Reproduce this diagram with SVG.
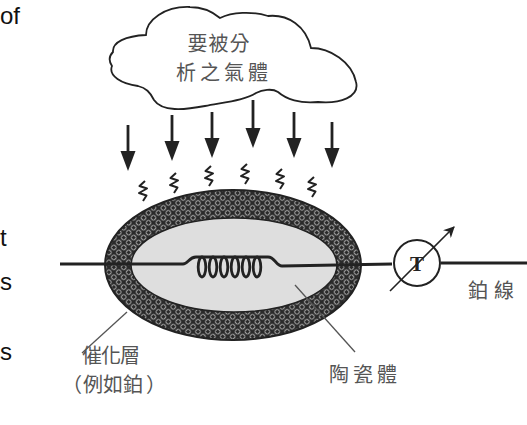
<svg xmlns="http://www.w3.org/2000/svg" width="527" height="425" viewBox="0 0 527 425">
  <style>
    .side { font-family: "Liberation Sans", Arial, sans-serif; font-size: 24px; fill: #111; }
    .cjk { font-family: "Noto Sans CJK TC", "Noto Sans CJK SC", sans-serif; fill: #555; font-size: 20px; }
    .line { stroke: #222; fill: none; }
    .leader { stroke: #555; stroke-width: 1.3; fill: none; }
    .squig { stroke: #222; stroke-width: 2; fill: none; stroke-linejoin: round; }
    .shaft { stroke: #222; stroke-width: 2.8; }
  </style>
  <defs>
    <!-- lattice texture of the catalyst coating -->
    <pattern id="net" width="7" height="7" patternUnits="userSpaceOnUse" patternTransform="rotate(45)">
      <rect width="7" height="7" fill="#2a2a2a"/>
      <rect x="1.3" y="1.3" width="4.4" height="4.4" rx="1.6" fill="none" stroke="#b0b0b0" stroke-width="1"/>
    </pattern>
    <marker id="head" viewBox="0 0 10 10" refX="9" refY="5" markerWidth="7" markerHeight="7" markerUnits="strokeWidth" orient="auto">
      <path d="M0,0 L10,5 L0,10 L3,5 Z" fill="#222"/>
    </marker>
    <path id="arrow" d="M-7.5,-20 L7.5,-20 L0,0 Z" fill="#222"/>
    <path id="zig" d="M2,-10 L-3.5,-5 L4,-2.5 L-4,2 L3.5,4.5 L0,10" />
  </defs>

  <!-- clipped text from the neighbouring column -->
  <g id="margin-text">
    <text class="side" x="0" y="24">of</text>
    <text class="side" x="0" y="246">t</text>
    <text class="side" x="0" y="290">s</text>
    <text class="side" x="0" y="360">s</text>
  </g>

  <!-- gas cloud -->
  <g id="cloud">
    <path class="line" stroke-width="1.8" fill="#fff" d="M113,52 C112,42 126,36 146,35 C146,20 165,6 190,7 C205,7 214,13 220,18 C232,12 252,11 268,16 C288,14 306,26 311,48 C330,48 352,62 356,82 C360,97 340,104 318,102 C300,104 286,99 278,92 C272,88 262,90 256,93 C246,100 226,102 205,106 C184,110 162,112 154,100 C150,92 146,88 138,86 C122,84 108,76 112,66 C108,60 110,55 113,52 Z"/>
    <text class="cjk" x="219" y="51" text-anchor="middle" letter-spacing="1">要被分</text>
    <text class="cjk" x="224" y="80" text-anchor="middle" letter-spacing="4">析之氣體</text>
  </g>

  <!-- gas flow arrows -->
  <g id="flow">
    <line class="shaft" x1="128" y1="125" x2="128" y2="155"/>
    <use href="#arrow" x="128" y="171"/>
    <line class="shaft" x1="172" y1="115" x2="172" y2="145"/>
    <use href="#arrow" x="172" y="161"/>
    <line class="shaft" x1="212" y1="112" x2="212" y2="142"/>
    <use href="#arrow" x="212" y="158"/>
    <line class="shaft" x1="253" y1="100" x2="253" y2="132"/>
    <use href="#arrow" x="253" y="148"/>
    <line class="shaft" x1="294" y1="112" x2="294" y2="142"/>
    <use href="#arrow" x="294" y="158"/>
    <line class="shaft" x1="332" y1="122" x2="332" y2="152"/>
    <use href="#arrow" x="332" y="168"/>
  </g>

  <!-- reaction squiggles -->
  <g id="reaction">
    <use href="#zig" class="squig" x="143" y="191"/>
    <use href="#zig" class="squig" x="174" y="183"/>
    <use href="#zig" class="squig" x="209" y="176"/>
    <use href="#zig" class="squig" x="245" y="174"/>
    <use href="#zig" class="squig" x="280" y="179"/>
    <use href="#zig" class="squig" x="312" y="187"/>
  </g>

  <!-- sensor body: catalyst shell and ceramic core -->
  <g id="sensor">
    <ellipse cx="233" cy="265" rx="128" ry="75" fill="url(#net)" stroke="#222" stroke-width="2"/>
    <ellipse cx="234" cy="265" rx="103" ry="47" fill="#dedede" stroke="#222" stroke-width="1.5"/>
  </g>

  <!-- platinum wire with heating coil -->
  <g id="wire">
    <path class="line" stroke-width="2.8" d="M60,264 L183,264 C188,264 189,257 196,257 L268,257 C275,257 276,266 282,266 L392,264"/>
    <g class="line" stroke-width="2.8">
      <ellipse cx="202" cy="267" rx="3.8" ry="10"/>
      <ellipse cx="213" cy="267" rx="3.8" ry="10"/>
      <ellipse cx="224" cy="267" rx="3.8" ry="10"/>
      <ellipse cx="235" cy="267" rx="3.8" ry="10"/>
      <ellipse cx="246" cy="267" rx="3.8" ry="10"/>
      <ellipse cx="257" cy="267" rx="3.8" ry="10"/>
    </g>
    <line class="line" stroke-width="2.8" x1="441" y1="263" x2="527" y2="263"/>
  </g>

  <!-- temperature sensor -->
  <g id="thermo">
    <circle cx="417" cy="263" r="23" fill="#fff" stroke="#222" stroke-width="2"/>
    <text x="417" y="271" text-anchor="middle" font-family="Liberation Serif, serif" font-weight="bold" font-size="21" fill="#222">T</text>
    <line x1="390" y1="291" x2="454" y2="227" stroke="#222" stroke-width="1.6" marker-end="url(#head)"/>
  </g>

  <!-- leaders and labels -->
  <g id="labels">
    <line class="leader" x1="127" y1="312" x2="82" y2="353"/>
    <line class="leader" x1="295" y1="285" x2="355" y2="352"/>
    <text class="cjk" x="82" y="363" font-size="18" letter-spacing="-1">催化層</text>
    <text class="cjk" y="392" font-size="17"><tspan x="62">（</tspan><tspan x="83">例如鉑</tspan><tspan x="146">）</tspan></text>
    <text class="cjk" x="329" y="382" font-size="22" letter-spacing="4">陶瓷體</text>
    <text class="cjk" x="468" y="298" font-size="21" letter-spacing="6">鉑線</text>
  </g>
</svg>
